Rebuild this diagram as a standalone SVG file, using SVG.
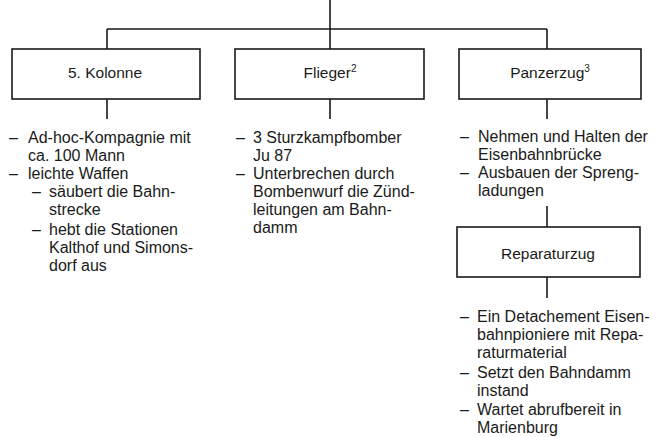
<svg xmlns="http://www.w3.org/2000/svg" width="656" height="437" viewBox="0 0 656 437">
<style>
.box{fill:#fff;stroke:#1a1a1a;stroke-width:1.6}
.ln{fill:none;stroke:#1a1a1a;stroke-width:1.6}
.lbl{font-family:"Liberation Sans",Arial,sans-serif;font-size:15.5px;fill:#1a1a1a;text-anchor:middle}
.t{font-family:"Liberation Sans",Arial,sans-serif;font-size:16px;fill:#1a1a1a}
</style>
<rect width="656" height="437" fill="#fff"/>
<g id="connectors">
<path class="ln" d="M330,0 V49 M107,29 H547 M107,29 V49 M547,29 V49 M107,99 V119 M330,99 V119 M547,99 V119 M547,206 V227 M547,277 V298"/>
</g>
<g id="kolonne">
<rect class="box" x="12" y="49" width="188" height="50"/>
<text class="lbl" x="105" y="78">5. Kolonne</text>
<text class="t">
<tspan x="9" y="143">–</tspan><tspan x="28" y="143">Ad-hoc-Kompagnie mit</tspan>
<tspan x="28" y="161">ca. 100 Mann</tspan>
<tspan x="9" y="179">–</tspan><tspan x="28" y="179">leichte Waffen</tspan>
<tspan x="32" y="197">–</tspan><tspan x="49" y="197">säubert die Bahn-</tspan>
<tspan x="49" y="215">strecke</tspan>
<tspan x="32" y="235">–</tspan><tspan x="49" y="235">hebt die Stationen</tspan>
<tspan x="49" y="253">Kalthof und Simons-</tspan>
<tspan x="49" y="271">dorf aus</tspan>
</text>
</g>
<g id="flieger">
<rect class="box" x="235" y="49" width="189" height="50"/>
<text class="lbl" x="330" y="78">Flieger<tspan font-size="10" dy="-6">2</tspan></text>
<text class="t">
<tspan x="236" y="143">–</tspan><tspan x="253" y="143">3 Sturzkampfbomber</tspan>
<tspan x="253" y="161">Ju 87</tspan>
<tspan x="236" y="179">–</tspan><tspan x="253" y="179">Unterbrechen durch</tspan>
<tspan x="253" y="197">Bombenwurf die Zünd-</tspan>
<tspan x="253" y="215">leitungen am Bahn-</tspan>
<tspan x="253" y="233">damm</tspan>
</text>
</g>
<g id="panzerzug">
<rect class="box" x="459" y="49" width="182" height="50"/>
<text class="lbl" x="550" y="78">Panzerzug<tspan font-size="10" dy="-6">3</tspan></text>
<text class="t">
<tspan x="460" y="142">–</tspan><tspan x="478" y="142">Nehmen und Halten der</tspan>
<tspan x="478" y="160">Eisenbahnbrücke</tspan>
<tspan x="460" y="178">–</tspan><tspan x="478" y="178">Ausbauen der Spreng-</tspan>
<tspan x="478" y="196">ladungen</tspan>
</text>
</g>
<g id="reparaturzug">
<rect class="box" x="457" y="227" width="183" height="50"/>
<text class="lbl" x="548" y="259">Reparaturzug</text>
<text class="t">
<tspan x="460" y="322">–</tspan><tspan x="477" y="322">Ein Detachement Eisen-</tspan>
<tspan x="477" y="340">bahnpioniere mit Repa-</tspan>
<tspan x="477" y="358">raturmaterial</tspan>
<tspan x="460" y="378">–</tspan><tspan x="477" y="378">Setzt den Bahndamm</tspan>
<tspan x="477" y="396">instand</tspan>
<tspan x="460" y="415">–</tspan><tspan x="477" y="415">Wartet abrufbereit in</tspan>
<tspan x="477" y="433">Marienburg</tspan>
</text>
</g>
</svg>
